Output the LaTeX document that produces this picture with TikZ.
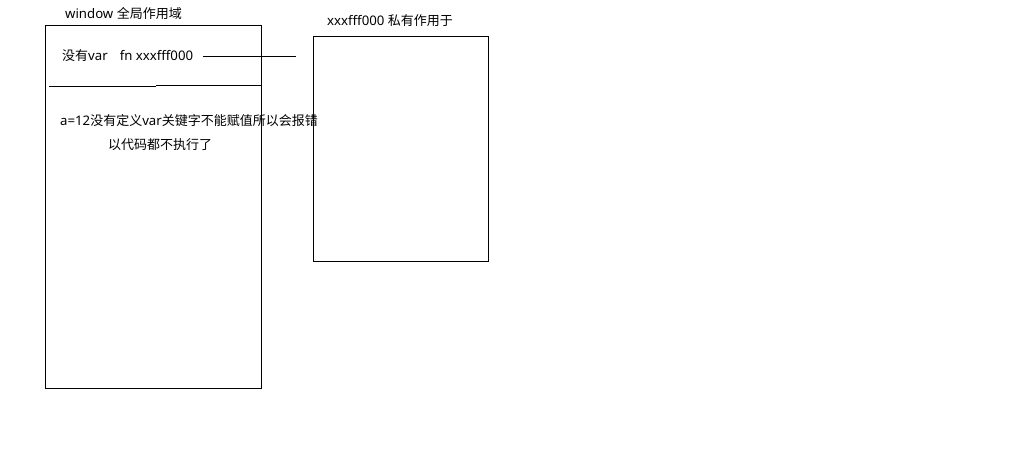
\documentclass[tikz,border=0pt]{standalone}
\usepackage{fontspec}
\setmainfont{Noto Sans}
\newfontfamily\cjkf{Noto Sans CJK SC}
\newcommand\zh[1]{{\cjkf\fontsize{13}{14}\selectfont #1}}
\begin{document}
\begin{tikzpicture}[x=1pt,y=-1pt,
  box/.style={draw=black,line width=0.8pt},
  lbl/.style={inner sep=0pt,font=\fontsize{13.2}{14}\selectfont,anchor=west},
  ln/.style={draw=black,line width=0.8pt}]
\useasboundingbox[fill=white] (0,0) rectangle (1028,460);
\draw[box] (45,25) rectangle (261,388);
\draw[box] (313,36) rectangle (488,261);
\node[lbl] (win) at (65,14) {window \zh{全局作用域}};
\node[lbl] (priv) at (327,21) {xxxfff000 \zh{私有作用于}};
\node[lbl] (fn) at (62,56) {\zh{没有}var\hspace{12pt}fn xxxfff000};
\node[lbl] (err1) at (60,121) {a=12\zh{没有定义}var\zh{关键字不能赋值所以会报错}};
\node[lbl] (err2) at (108,145) {\zh{以代码都不执行了}};
\coordinate (la) at (203,56);
\coordinate (lb) at (296,56);
\draw[ln] (la) -- (lb);
\coordinate (h1) at (49,86.5);
\coordinate (h2) at (156,86.5);
\coordinate (h3) at (156,85.3);
\coordinate (h4) at (262,85.3);
\draw[ln] (h1) -- (h2);
\draw[ln] (h3) -- (h4);
\end{tikzpicture}
\end{document}
